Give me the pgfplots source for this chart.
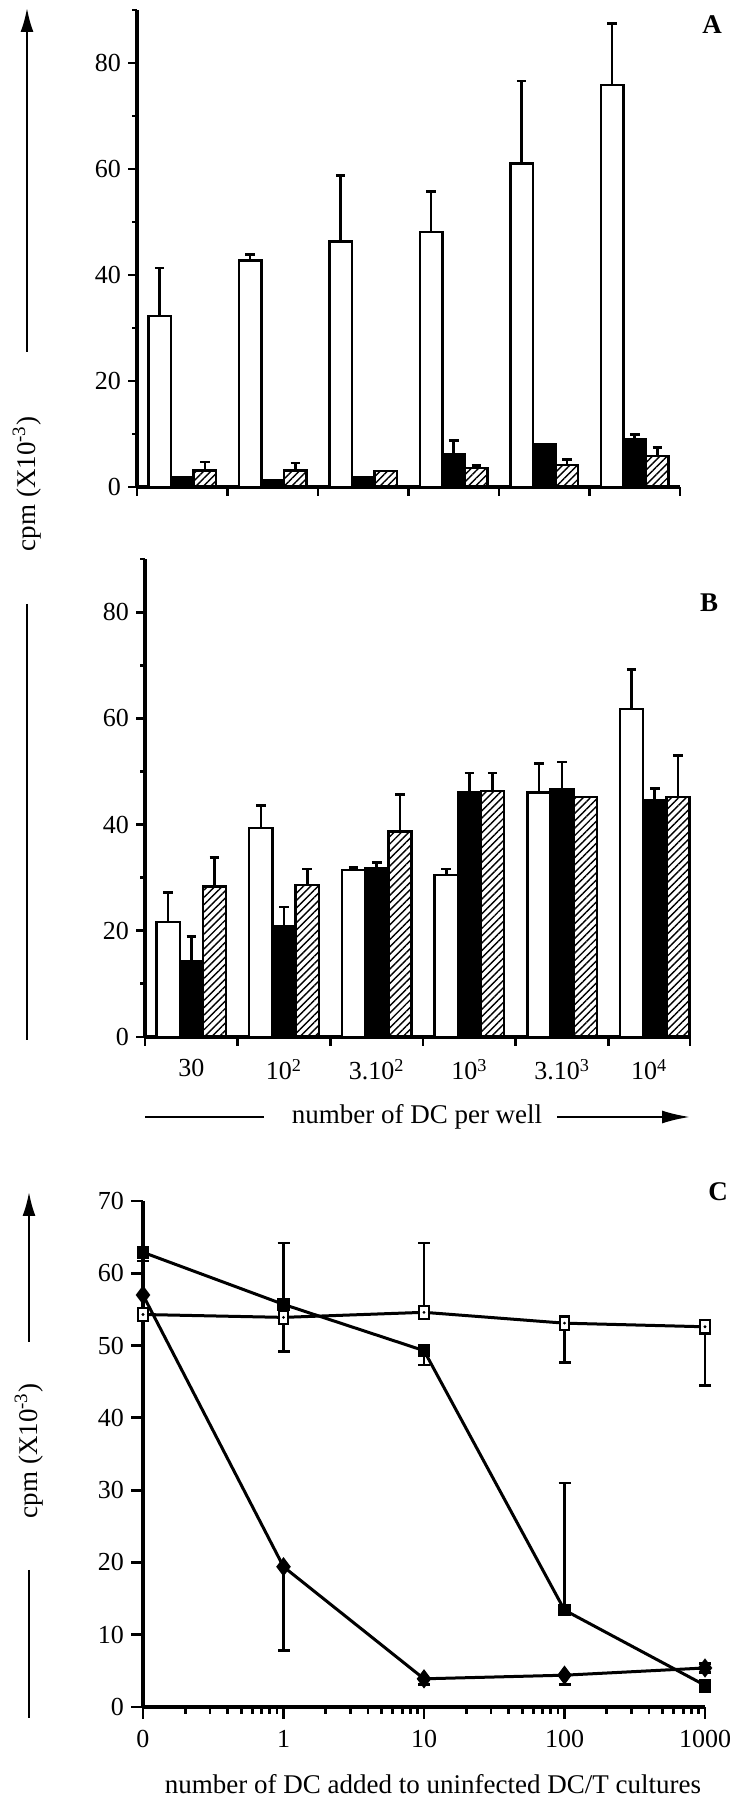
\documentclass[border=0pt]{standalone}
\usepackage{fontspec}
\setmainfont{Liberation Serif}
\usepackage{pgfplots}
\pgfplotsset{compat=1.18}
\usepackage{pgfplotstable}
\usetikzlibrary{patterns.meta,arrows.meta}

% Panel A: white, black, hatched bars with upward errors
\pgfplotstableread{
x w we b be h he
0 32.3 9.0 1.8 0.0 3.1 1.6
1 42.7 1.2 1.2 0.0 3.1 1.4
2 46.3 12.5 1.8 0.0 3.0 0.0
3 48.1 7.7 6.2 2.6 3.6 0.5
4 61.0 15.6 8.0 0.0 4.1 1.1
5 75.9 11.5 9.1 0.8 5.8 1.6
}\dataA

% Panel B
\pgfplotstableread{
x w we b be h he
0 21.7 5.5 14.2 4.7 28.3 5.5
1 39.4 4.2 20.8 3.7 28.6 3.0
2 31.4 0.5 31.8 1.0 38.7 7.0
3 30.5 1.1 46.0 3.7 46.3 3.4
4 46.0 5.5 46.6 5.2 45.2 0.0
5 61.8 7.4 44.6 2.2 45.2 7.8
}\dataB

% Panel C series (x = 0.1 stands for "0")
\pgfplotstableread{
x y
0.1 54.3
1 53.9
10 54.6
100 53.1
1000 52.6
}\openS
\pgfplotstableread{
x y
0.1 62.9
1 55.7
10 49.3
100 13.4
1000 3.0
}\fillS
\pgfplotstableread{
x y
0.1 57.0
1 19.4
10 3.9
100 4.4
1000 5.4
}\diamS
\pgfplotstableread{
x y e
1 55.7 8.5
10 54.6 9.6
100 13.4 17.6
1000 5.4 0.6
}\errUp
\pgfplotstableread{
x y e
0.1 62.9 1.2
1 53.9 4.7
10 49.3 2.0
100 53.1 5.4
1000 52.6 8.1
1000 3.0 0.9
1 19.4 11.6
10 3.9 0.8
100 4.4 1.3
1000 5.4 0.6
}\errDown

\pgfplotsset{
  panel/.style={
    scale only axis, axis lines*=left, tick align=outside,
    axis line style={line width=1.6pt},
    tick style={line width=1.4pt, black},
    major tick length=4.5pt, minor tick length=2.5pt,
    tick label style={font=\fontsize{13}{15}\selectfont},
    /pgf/number format/assume math mode=true,
    clip=false,
  },
  barpanel/.style={
    panel, ybar=0pt, bar width=0.25, ymin=0, ymax=90,
    ytick={0,20,...,80}, minor ytick={10,30,...,90},
  },
  barerr/.style={
    error bars/.cd, y dir=plus, y explicit,
    error bar style={line width=1.3pt, black},
    error mark options={rotate=90, mark size=2.4pt, line width=1.3pt, black},
  },
  whitebar/.style={draw=black, fill=white, line width=1.2pt},
  blackbar/.style={draw=black, fill=black, line width=1.2pt},
  hatchbar/.style={draw=black, line width=1.2pt, pattern={Lines[angle=45,distance=2.6pt,line width=0.7pt]}},
  cerrup/.style={
    error bars/.cd, y dir=plus, y explicit,
    error bar style={line width=1.3pt, black},
    error mark options={rotate=90, mark size=3pt, line width=1.3pt, black},
  },
  cerrdown/.style={
    error bars/.cd, y dir=minus, y explicit,
    error bar style={line width=1.3pt, black},
    error mark options={rotate=90, mark size=3pt, line width=1.3pt, black},
  },
}

\begin{document}
\begin{tikzpicture}
\useasboundingbox (0,0) rectangle (366pt,900pt);

% ---------- Panel A ----------
\begin{axis}[barpanel,
  at={(68.5pt,656.5pt)}, anchor=south west,
  width=271.5pt, height=238.5pt,
  xmin=-0.5, xmax=5.5,
  xtick={-0.5,0.5,...,5.5}, xticklabels={},
]
\addplot[whitebar, barerr] table[x=x, y=w, y error=we]{\dataA};
\addplot[blackbar, barerr] table[x=x, y=b, y error=be]{\dataA};
\addplot[hatchbar, barerr] table[x=x, y=h, y error=he]{\dataA};
\end{axis}

% ---------- Panel B ----------
\begin{axis}[barpanel,
  at={(72.5pt,381.5pt)}, anchor=south west,
  width=272.5pt, height=239pt,
  xmin=-0.5, xmax=5.38,
  xtick={-0.5,0.5,1.5,2.5,3.5,4.5,5.38},
  x tick label as interval,
  xticklabels={30, 10\textsuperscript{2}, 3.10\textsuperscript{2}, 10\textsuperscript{3}, 3.10\textsuperscript{3}, 10\textsuperscript{4}},
  xticklabel style={font=\fontsize{13}{15}\selectfont, yshift=-3pt},
]
\addplot[whitebar, barerr] table[x=x, y=w, y error=we]{\dataB};
\addplot[blackbar, barerr] table[x=x, y=b, y error=be]{\dataB};
\addplot[hatchbar, barerr] table[x=x, y=h, y error=he]{\dataB};
\end{axis}

% ---------- Panel C ----------
\begin{axis}[panel,
  at={(71.5pt,46.5pt)}, anchor=south west,
  width=281pt, height=253pt,
  xmode=log, log basis x=10,
  xmin=0.1, xmax=1000, ymin=0, ymax=70,
  ytick={0,10,...,70},
  xtick={0.1,1,10,100,1000}, xticklabels={0,1,10,100,1000},
  minor xtick={0.2,0.3,0.4,0.5,0.6,0.7,0.8,0.9,2,3,4,5,6,7,8,9,20,30,40,50,60,70,80,90,200,300,400,500,600,700,800,900},
  major tick length=6pt, minor tick length=3.5pt,
  xticklabel style={yshift=-2pt},
]
\addplot[only marks, mark=none, cerrup] table[x=x, y=y, y error=e]{\errUp};
\addplot[only marks, mark=none, cerrdown] table[x=x, y=y, y error=e]{\errDown};
\addplot[black, line width=1.5pt, mark=square*, mark size=2.4pt, mark options={solid, fill=white, draw=black, line width=1.1pt, yscale=1.4}] table[x=x, y=y]{\openS};
\addplot[only marks, black, mark=*, mark size=0.5pt] table[x=x, y=y]{\openS};
\addplot[black, line width=1.5pt, mark=square*, mark size=2.4pt, mark options={solid, fill=black}] table[x=x, y=y]{\fillS};
\addplot[black, line width=1.5pt, mark=diamond*, mark size=3.6pt, mark options={solid, fill=black}] table[x=x, y=y]{\diamS};
\end{axis}

% ---------- Annotations ----------
\node[rotate=90, font=\fontsize{13.5}{16}\selectfont] at (13.5pt,658pt) {cpm (X10\textsuperscript{-3})};
\draw[line width=1.1pt, -{Latex[length=12pt,width=6.5pt]}] (13.5pt,724pt) -- (13.5pt,896pt);
\draw[line width=1.1pt] (13.5pt,598pt) -- (13.5pt,380pt);

\node[rotate=90, font=\fontsize{13.5}{16}\selectfont] at (14.5pt,174.5pt) {cpm (X10\textsuperscript{-3})};
\draw[line width=1.1pt, -{Latex[length=12pt,width=6.5pt]}] (14.5pt,229pt) -- (14.5pt,304pt);
\draw[line width=1.1pt] (14.5pt,115pt) -- (14.5pt,41pt);

\draw[line width=1.1pt] (72.5pt,341.5pt) -- (132pt,341.5pt);
\node[font=\fontsize{13.5}{16}\selectfont] at (208.5pt,341.5pt) {number of DC per well};
\draw[line width=1.1pt, -{Latex[length=14pt,width=6.5pt]}] (278.5pt,341.5pt) -- (345pt,341.5pt);

\node[font=\fontsize{13.5}{16}\selectfont] at (216.5pt,8pt) {number of DC added to uninfected DC/T cultures};

\node[font=\bfseries\fontsize{13.5}{15}\selectfont] at (356pt,887.5pt) {A};
\node[font=\bfseries\fontsize{13.5}{15}\selectfont] at (354.5pt,598.5pt) {B};
\node[font=\bfseries\fontsize{13.5}{15}\selectfont] at (359pt,304pt) {C};
\end{tikzpicture}
\end{document}
